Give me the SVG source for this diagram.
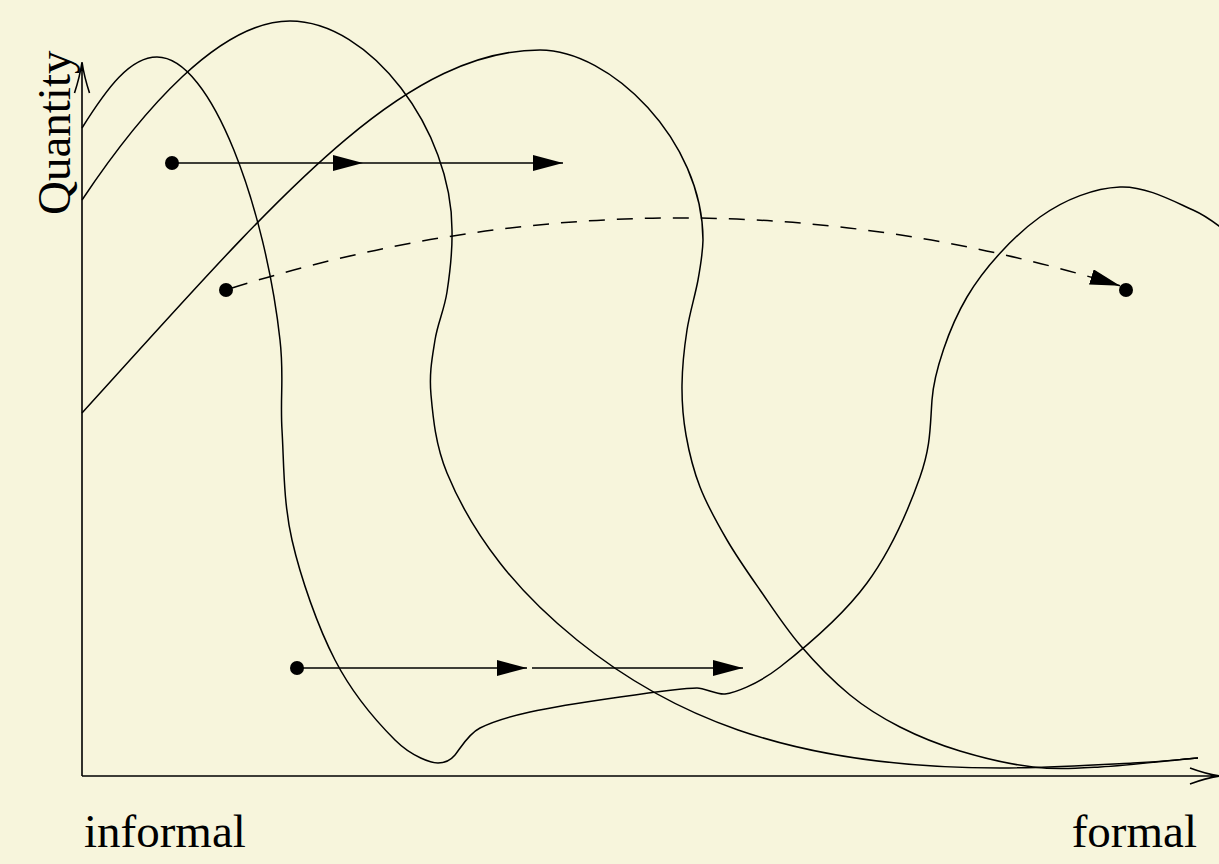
<svg xmlns="http://www.w3.org/2000/svg" width="1219" height="864" viewBox="0 0 1219 864">
<style>
.curve{fill:none;stroke:#000;stroke-width:1.5}
.axis{fill:none;stroke:#000;stroke-width:1.6}
.arr{fill:none;stroke:#000;stroke-width:1.5}
.dash{fill:none;stroke:#000;stroke-width:1.5;stroke-dasharray:16 12}
.dot{fill:#000}
.lbl{font-family:"Liberation Serif","Times New Roman",serif;font-size:47px;fill:#000}
</style>
<defs>
<marker id="ah" viewBox="0 0 30 16" refX="30" refY="8" markerWidth="30" markerHeight="16" markerUnits="userSpaceOnUse" orient="auto">
<path d="M0,0 L30,8 L0,16 Z" fill="#000"/>
</marker>
</defs>
<rect width="1219" height="864" fill="#f7f5dc"/>
<g id="axes">
<path class="axis" d="M82,776 V62 M74.5,93 Q80,76 82,62 Q84,76 89.5,93"/>
<path class="axis" d="M82,776 H1219 M1190,768 Q1206,774 1220,776 Q1206,778 1190,784"/>
</g>
<g id="curve1">
<path class="curve" d="M82,128 C107,88 130,57 157,57 C212,57 265.7,210 280,340 C284.2,376.2 280,396.7 282,430 C284,463.3 283.2,501.7 292,540 C300.8,578.3 317.8,626.7 335,660 C352.2,693.3 377.8,722.8 395,740 C412.2,757.2 432,763 438,763 C444,763 450,761 455,755 C460,749 468,734 480,728 C492,722 506.7,717.2 530,712 C553.3,706.8 592.2,701 620,697 C647.8,693 689,688 697,688 C705,688 717,695 725,694 C733,693 756.3,685.5 780,667 C803.7,648.5 843.7,614.7 867,583 C890.3,551.3 909.2,507.5 920,477 C930.8,446.5 930,428 932,400 C934,372 949,327.5 967,297 C985,266.5 1014.5,235.3 1040,217 C1065.5,198.7 1094.5,188.2 1120,187 C1145.5,185.8 1173.8,201.5 1193,210 C1212.2,218.5 1221,228.7 1235,238"/>
</g>
<g id="curve2">
<path class="curve" d="M82,200 C142,110 220,21 290,21 C370,21 452,130 452,230 C452.5,251.5 449.8,273.7 447,292 C444.2,310.3 437.7,322.8 435,340 C432.3,357.2 429,372.8 431,395 C433,417.2 435.5,445 447,473 C458.5,501 478.3,535.2 500,563 C521.7,590.8 550.8,618.8 577,640 C662.5,709.2 780,768 1000,768 C1044.3,768 1100,764.7 1133,763 C1166,761.3 1176.3,759.7 1198,758"/>
</g>
<g id="curve3">
<path class="curve" d="M82,413 C272,204 400,50 540,50 C610,50 703,140 703,240 C702.7,253.8 700.7,265 698,280 C695.3,295 689.7,312.5 687,330 C684.3,347.5 682.2,367.5 682,385 C681.8,402.5 683,418 686,435 C689,452 693.2,469.5 700,487 C706.8,504.5 717,522.8 727,540 C737,557.2 747.8,572.5 760,590 C772.2,607.5 785,627.5 800,645 C815,662.5 833.3,681.3 850,695 C866.7,708.7 881.7,717.7 900,727 C918.3,736.3 937.8,744.3 960,751 C982.2,757.7 1009.7,764.3 1033,767 C1056.3,769.7 1072.5,768.5 1100,767 C1127.5,765.5 1165.3,761 1198,758"/>
</g>
<g id="connectors">
<g id="upper-arrow">
<circle class="dot" cx="172" cy="163" r="7"/>
<line class="arr" x1="172" y1="163" x2="363" y2="163" marker-end="url(#ah)"/>
<line class="arr" x1="363" y1="163" x2="563" y2="163" marker-end="url(#ah)"/>
</g>
<g id="lower-arrow">
<circle class="dot" cx="297" cy="668" r="7"/>
<line class="arr" x1="297" y1="668" x2="527" y2="668" marker-end="url(#ah)"/>
<line class="arr" x1="532" y1="668" x2="743" y2="668" marker-end="url(#ah)"/>
</g>
<g id="dashed-arrow">
<circle class="dot" cx="226" cy="290" r="7"/>
<path class="dash" d="M232,288 Q676,149 1120,285.8" marker-end="url(#ah)"/>
<circle class="dot" cx="1126" cy="290" r="7"/>
</g>
</g>
<g id="labels">
<text class="lbl" transform="translate(70,215) rotate(-90)">Quantity</text>
<text class="lbl" x="84" y="847">informal</text>
<text class="lbl" x="1197" y="847" text-anchor="end">formal</text>
</g>
</svg>
